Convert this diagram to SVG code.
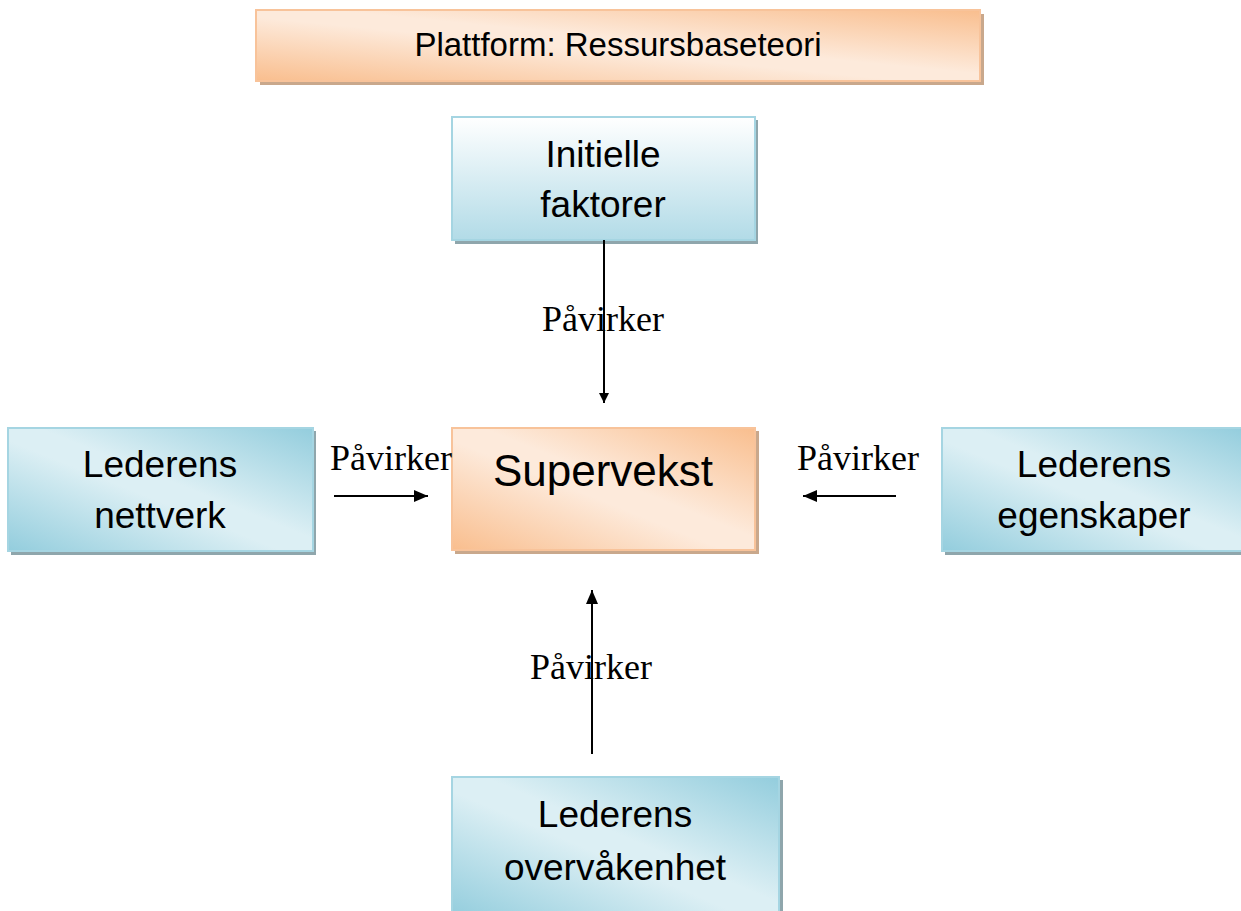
<svg xmlns="http://www.w3.org/2000/svg" width="1241" height="911" viewBox="0 0 1241 911">
  <defs>
    <linearGradient id="gBlueDiag" x1="0" y1="1" x2="1" y2="0">
      <stop offset="0" stop-color="#93CDDD"/>
      <stop offset="0.45" stop-color="#DCEFF4"/>
      <stop offset="0.55" stop-color="#DCEFF4"/>
      <stop offset="1" stop-color="#93CDDD"/>
    </linearGradient>
    <linearGradient id="gBlueVert" x1="0" y1="0" x2="0" y2="1">
      <stop offset="0" stop-color="#FFFFFF"/>
      <stop offset="1" stop-color="#B2DBE7"/>
    </linearGradient>
    <linearGradient id="gOrange" x1="0" y1="1" x2="1" y2="0">
      <stop offset="0" stop-color="#F9BE8E"/>
      <stop offset="0.45" stop-color="#FDEADB"/>
      <stop offset="0.55" stop-color="#FDEADB"/>
      <stop offset="1" stop-color="#F9BE8E"/>
    </linearGradient>
    <marker id="arrow" viewBox="0 0 10 10" refX="10" refY="5" markerWidth="10" markerHeight="10" markerUnits="userSpaceOnUse" orient="auto">
      <path d="M0,0 L10,5 L0,10 Z" fill="#000"/>
    </marker>
    <marker id="arrowBig" viewBox="0 0 14 12" refX="14" refY="6" markerWidth="14" markerHeight="12" markerUnits="userSpaceOnUse" orient="auto">
      <path d="M0,0 L14,6 L0,12 Z" fill="#000"/>
    </marker>
  </defs>
  <style>
    .blue { stroke: #A5D5E2; stroke-width: 2; }
    .orange { stroke: #F8C39A; stroke-width: 2; }
    .shadowB { fill: #8FA6AC; }
    .shadowO { fill: #C9A88C; }
    .box { font-family: "Liberation Sans", Arial, sans-serif; fill: #000; text-anchor: middle; }
    .lbl { font-family: "Liberation Serif", "Times New Roman", serif; font-size: 36px; fill: #000; }
    .conn { stroke: #000; stroke-width: 2; fill: none; }
  </style>
  <rect width="1241" height="911" fill="#FFFFFF"/>

  <g id="platform">
    <rect class="shadowO" x="260" y="14" width="724" height="71"/>
    <rect class="orange" x="256" y="10" width="724" height="71" fill="url(#gOrange)"/>
    <text class="box" x="618" y="56" font-size="33">Plattform: Ressursbaseteori</text>
  </g>

  <g id="initielle">
    <rect class="shadowB" x="455" y="120" width="303" height="124"/>
    <rect class="blue" x="452" y="117" width="303" height="123" fill="url(#gBlueVert)"/>
    <text class="box" x="603" y="167" font-size="37">Initielle</text>
    <text class="box" x="603" y="217" font-size="37">faktorer</text>
  </g>

  <g id="nettverk">
    <rect class="shadowB" x="11" y="431" width="305" height="124"/>
    <rect class="blue" x="8" y="428" width="305" height="123" fill="url(#gBlueDiag)"/>
    <text class="box" x="160" y="477" font-size="37">Lederens</text>
    <text class="box" x="160" y="528" font-size="37">nettverk</text>
  </g>

  <g id="supervekst">
    <rect class="shadowO" x="455" y="431" width="304" height="123"/>
    <rect class="orange" x="452" y="428" width="303" height="122" fill="url(#gOrange)"/>
    <text class="box" x="603" y="486" font-size="44">Supervekst</text>
  </g>

  <g id="egenskaper">
    <rect class="shadowB" x="945" y="431" width="300" height="124"/>
    <rect class="blue" x="942" y="428" width="302" height="123" fill="url(#gBlueDiag)"/>
    <text class="box" x="1094" y="477" font-size="37">Lederens</text>
    <text class="box" x="1094" y="528" font-size="37">egenskaper</text>
  </g>

  <g id="overvakenhet">
    <rect class="shadowB" x="455" y="780" width="328" height="140"/>
    <rect class="blue" x="452" y="777" width="327" height="140" fill="url(#gBlueDiag)"/>
    <text class="box" x="615" y="827" font-size="37">Lederens</text>
    <text class="box" x="615" y="880" font-size="37">overvåkenhet</text>
  </g>

  <g id="connectors">
    <line class="conn" x1="604" y1="240" x2="604" y2="403" marker-end="url(#arrow)"/>
    <line class="conn" x1="334" y1="496" x2="428" y2="496" marker-end="url(#arrowBig)"/>
    <line class="conn" x1="896" y1="496" x2="803" y2="496" marker-end="url(#arrowBig)"/>
    <line class="conn" x1="592" y1="754" x2="592" y2="590" marker-end="url(#arrowBig)"/>
    <text class="lbl" x="542" y="331">Påvirker</text>
    <text class="lbl" x="330" y="470">Påvirker</text>
    <text class="lbl" x="797" y="470">Påvirker</text>
    <text class="lbl" x="530" y="679">Påvirker</text>
  </g>
</svg>
